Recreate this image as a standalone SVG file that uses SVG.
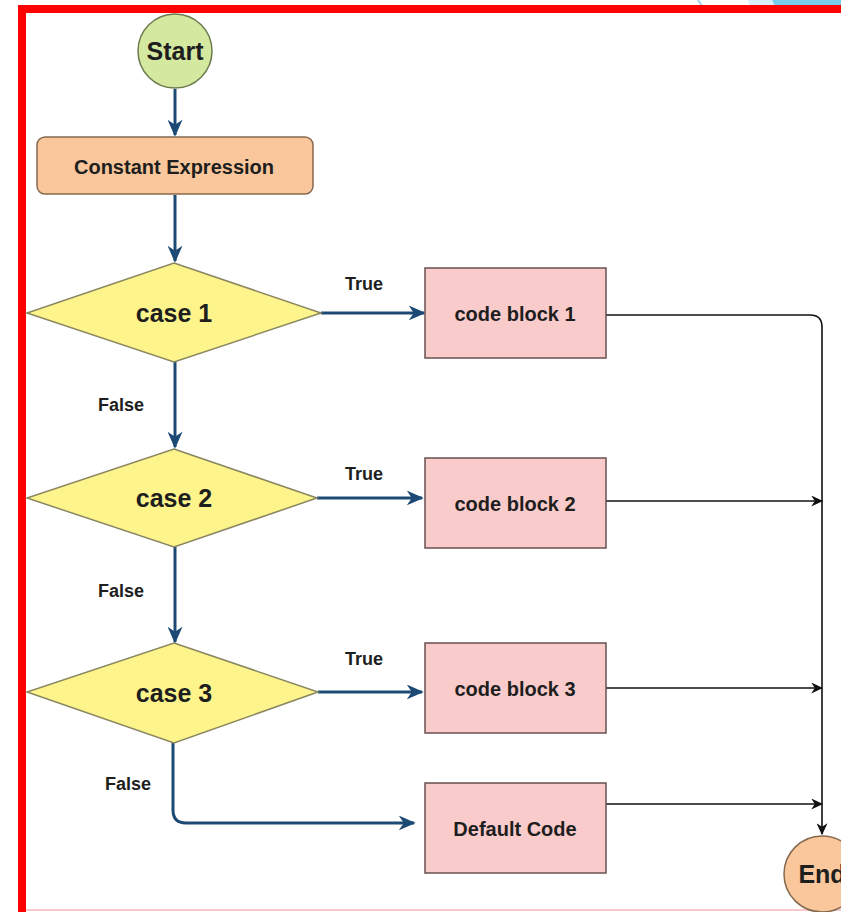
<svg xmlns="http://www.w3.org/2000/svg" width="841" height="912" viewBox="0 0 841 912">
<style>
text{font-family:"Liberation Sans",Arial,sans-serif;font-weight:bold;fill:#1e1e1e;text-anchor:middle;dominant-baseline:central}
.big{font-size:25px}
.mid{font-size:20px}
.lbl{font-size:18px}
.flow{fill:none;stroke:#1d4a75;stroke-width:3}
.out{fill:none;stroke:#111;stroke-width:1.6}
.dia{fill:#fdf58c;stroke:#8a8660;stroke-width:1.5}
.blk{fill:#f9cbcb;stroke:#6a5050;stroke-width:1.5}
</style>
<defs>
<marker id="ab" viewBox="0 0 10 10" refX="9" refY="5" markerWidth="17" markerHeight="15" markerUnits="userSpaceOnUse" orient="auto" preserveAspectRatio="none">
<path d="M0,0 L10,5 L0,10 L3,5 z" fill="#1d4a75"/>
</marker>
<marker id="ak" viewBox="0 0 10 10" refX="9" refY="5" markerWidth="12" markerHeight="11" markerUnits="userSpaceOnUse" orient="auto" preserveAspectRatio="none">
<path d="M0,0 L10,5 L0,10 L3,5 z" fill="#111"/>
</marker>
</defs>
<rect width="841" height="912" fill="#fff"/>
<g id="decor">
<path d="M698,0 L702,6" stroke="#9fd4ee" stroke-width="2"/>
<polygon points="748,0 775,0 778,6 750,6" fill="#d9f0fa"/>
<polygon points="772,0 841,0 841,6 775,6" fill="#79cdec"/>
<rect x="18" y="5" width="823" height="8" fill="#ff0000"/>
<rect x="18" y="5" width="8" height="907" fill="#ff0000"/>
<line x1="26" y1="910" x2="841" y2="910" stroke="#f8c8cc" stroke-width="2"/>
</g>
<g id="connectors">
<line class="flow" x1="175" y1="89" x2="175" y2="135" marker-end="url(#ab)"/>
<line class="flow" x1="175" y1="195" x2="175" y2="261" marker-end="url(#ab)"/>
<line class="flow" x1="321" y1="313" x2="424" y2="313" marker-end="url(#ab)"/>
<line class="flow" x1="175" y1="362" x2="175" y2="447" marker-end="url(#ab)"/>
<line class="flow" x1="317" y1="498" x2="422" y2="498" marker-end="url(#ab)"/>
<line class="flow" x1="175" y1="547" x2="175" y2="642" marker-end="url(#ab)"/>
<line class="flow" x1="318" y1="692" x2="422" y2="692" marker-end="url(#ab)"/>
<path class="flow" d="M173,743 L173,810 Q173,823 186,823 L414,823" marker-end="url(#ab)"/>
<path class="out" d="M606,315 L810,315 Q822,315 822,327 L822,834" marker-end="url(#ak)"/>
<line class="out" x1="606" y1="501" x2="822" y2="501" marker-end="url(#ak)"/>
<line class="out" x1="606" y1="688" x2="822" y2="688" marker-end="url(#ak)"/>
<line class="out" x1="606" y1="804" x2="822" y2="804" marker-end="url(#ak)"/>
<text class="lbl" x="364" y="284">True</text>
<text class="lbl" x="364" y="474">True</text>
<text class="lbl" x="364" y="659">True</text>
<text class="lbl" x="121" y="405">False</text>
<text class="lbl" x="121" y="591">False</text>
<text class="lbl" x="128" y="784">False</text>
</g>
<g id="start">
<circle cx="175" cy="51" r="37" fill="#d4e8a0" stroke="#6b7a4e" stroke-width="1.5"/>
<text class="big" x="175" y="51">Start</text>
</g>
<g id="constant">
<rect x="37" y="137" width="276" height="57" rx="8" fill="#f9c79b" stroke="#86684e" stroke-width="1.5"/>
<text class="mid" x="174" y="167">Constant Expression</text>
</g>
<g id="case1">
<polygon class="dia" points="174,263 321,313 174,362 27,313"/>
<text class="big" x="174" y="313">case 1</text>
</g>
<g id="case2">
<polygon class="dia" points="174,449 317,498 174,547 27,498"/>
<text class="big" x="174" y="498">case 2</text>
</g>
<g id="case3">
<polygon class="dia" points="174,643 318,692 174,743 27,692"/>
<text class="big" x="174" y="693">case 3</text>
</g>
<g id="block1">
<rect class="blk" x="425" y="268" width="181" height="90"/>
<text class="mid" x="515" y="314">code block 1</text>
</g>
<g id="block2">
<rect class="blk" x="425" y="458" width="181" height="90"/>
<text class="mid" x="515" y="504">code block 2</text>
</g>
<g id="block3">
<rect class="blk" x="425" y="643" width="181" height="90"/>
<text class="mid" x="515" y="689">code block 3</text>
</g>
<g id="default">
<rect class="blk" x="425" y="783" width="181" height="90"/>
<text class="mid" x="515" y="829">Default Code</text>
</g>
<g id="end">
<circle cx="822" cy="874" r="38" fill="#f9c79b" stroke="#86684e" stroke-width="1.5"/>
<text class="big" x="822" y="874">End</text>
</g>
</svg>
